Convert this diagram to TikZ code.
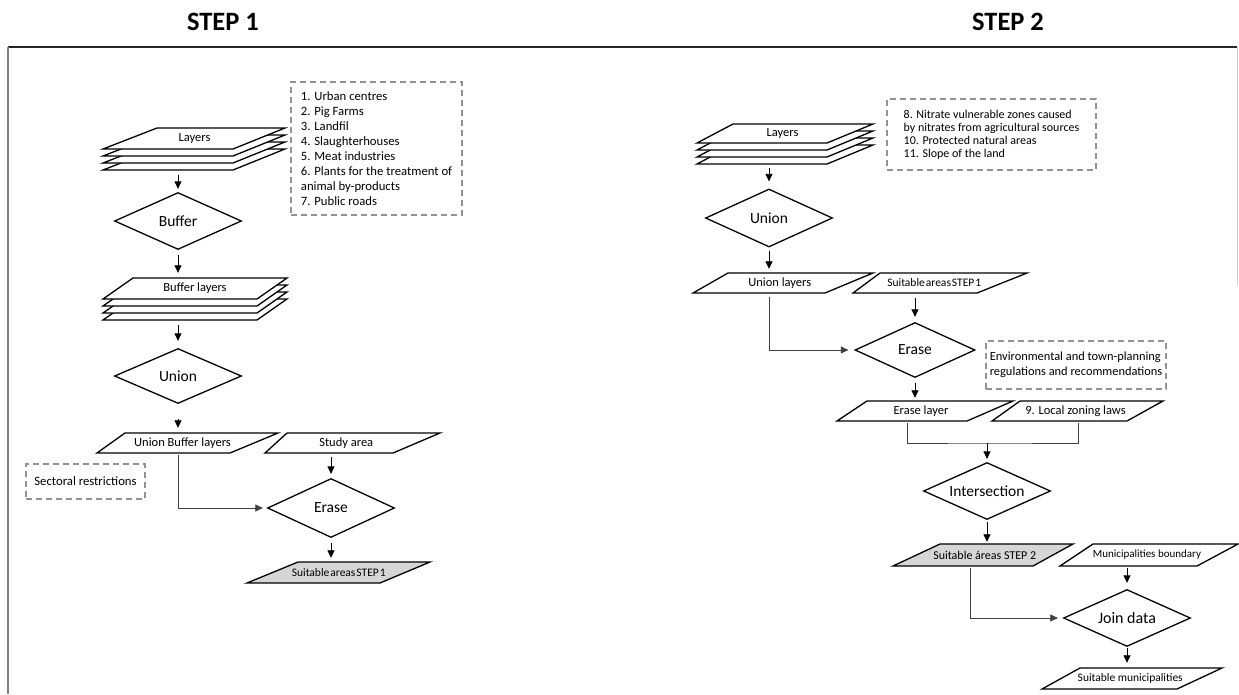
\documentclass[tikz,border=0pt]{standalone}
\usepackage{fontspec}
\setmainfont{Carlito}
\usetikzlibrary{shapes.geometric,arrows.meta,calc}

\tikzset{
  pshape/.style={draw=black, line width=1.3pt, fill=white, line join=miter},
  plabel/.style={inner sep=0pt, font=\fontsize{12.5}{14}\selectfont},
  dia/.style={diamond, draw=black, line width=1.3pt, fill=white, aspect=2.2, inner sep=0pt,
              minimum width=127pt, minimum height=57pt, font=\fontsize{15.5}{18}\selectfont},
  dbox/.style={draw=gray!85, dash pattern=on 6pt off 4pt, line width=1.1pt, inner sep=0pt,
               align=left, font=\fontsize{12.7}{15}\selectfont},
  arr/.style={draw=black, line width=0.8pt, -{Triangle[length=7.5pt,width=7pt]}},
  elbow/.style={draw=black!75, line width=0.7pt, -{Triangle[length=7.5pt,width=7pt]}},
  junc/.style={draw=black!75, line width=0.7pt},
  title/.style={font=\fontsize{26.5}{30}\selectfont\bfseries},
  gfill/.style={fill=black!16}
}

\newcommand\para[9]{%
  \draw[pshape,#9] (#2,#6) -- (#3,#6) -- (#5,#7) -- (#4,#7) -- cycle;
  \node[plabel, minimum height={#7-#6}, minimum width={(#3-#2+#5-#4)/2}] (#1)
     at ({(#2+#3+#4+#5)/4},{(#6+#7)/2}) {#8};
}
\newcommand\stackpara[9]{%
  \foreach \d in {21,14,7}{\draw[pshape] (#2,{#6+\d}) -- (#3,{#6+\d}) -- (#5,{#7+\d}) -- (#4,{#7+\d}) -- cycle;}
  \para{#1}{#2}{#3}{#4}{#5}{#6}{#7}{#8}{#9}%
}
\newcommand\tight[1]{{\spaceskip=1pt\relax #1}}

\begin{document}
\begin{tikzpicture}[x=1pt,y=-1pt]
\useasboundingbox (0,0) rectangle (1239,694);

% frame
\draw[black!85, line width=1.4pt] (8,47) -- (1237,47);
\draw[black!50, line width=1.6pt] (8,47) -- (8,694);
\draw[black!20, line width=1pt] (1237,47) -- (1237,285);

% titles
\node[title] (t1) at (223,22) {STEP 1};
\node[title] (t2) at (1008,22) {STEP 2};

% ---------------- STEP 1 ----------------
\node[dbox, minimum width=171pt, minimum height=133pt] (list1) at (376.5,148.5)
  {1. Urban centres\\2. Pig Farms\\3. Landfil\\4. Slaughterhouses\\5. Meat industries\\6. Plants for the treatment of\\animal by-products\\7. Public roads};

\stackpara{lay1}{157}{285}{103}{233}{128}{149}{Layers}{}
\node[dia] (buf) at (178,221) {Buffer};
\stackpara{bl}{133}{287}{103}{257}{278}{299}{Buffer layers}{}
\node[dia, minimum height=55pt] (un1) at (178,376) {Union};
\para{ubl}{125}{278}{97}{230}{433}{453}{Union Buffer layers}{}
\para{sa}{287}{440}{265}{393}{433}{453}{Study area}{}
\node[dbox, minimum width=119pt, minimum height=35pt] (sect) at (85.5,481.5) {Sectoral restrictions};
\node[dia, minimum height=59pt] (er1) at (331,508) {Erase};
\para{s1}{298}{430}{247}{380}{562}{583}{\fontsize{11.5}{13}\selectfont\tight{Suitable areas STEP 1}}{gfill}

\draw[arr] ($(lay1.south -| buf.north)+(0,26)$) -- ($(buf.north)+(0,-3)$);
\draw[arr] ($(buf.south)+(0,5)$) -- ($(bl.north -| buf.south)+(0,-5)$);
\draw[arr] ($(bl.south -| un1.north)+(0,26)$) -- ($(un1.north)+(0,-7)$);
\draw[arr] ($(un1.south)+(0,15)$) -- ($(ubl.north -| un1.south)+(0,-5)$);
\draw[arr] ($(sa.south -| er1.north)+(0,4)$) -- ($(er1.north)+(0,-4)$);
\draw[elbow] ($(ubl.south -| un1.south)+(0,2)$) |- ($(er1.west)+(-4,0)$);
\draw[arr] ($(er1.south)+(0,5)$) -- ($(s1.north -| er1.south)+(0,-4)$);

% ---------------- STEP 2 ----------------
\node[dbox, minimum width=209pt, minimum height=71pt, font=\fontsize{12}{13}\selectfont] (list2) at (991.5,134.5)
  {8. Nitrate vulnerable zones caused\\by nitrates from agricultural sources\\10. Protected natural areas\\11. Slope of the land};

\stackpara{lay2}{733}{873}{697}{827}{124}{143}{Layers}{}
\node[dia, minimum height=58pt] (un2) at (769,218) {Union};
\para{ul}{728}{873}{693}{825}{273}{293}{Union layers}{}
\para{s1b}{880}{1027}{853}{977}{273}{293}{\fontsize{11.5}{13}\selectfont\tight{Suitable areas STEP 1}}{}
\node[dia, minimum width=120pt, minimum height=55pt] (er2) at (915,350) {Erase};
\node[dbox, minimum width=180pt, minimum height=48pt, font=\fontsize{12.4}{15}\selectfont] (env) at (1076,365)
  {Environmental and town-planning\\regulations and recommendations};
\para{el}{867}{1013}{837}{967}{401}{421}{Erase layer}{}
\para{lz}{1020}{1163}{992}{1127}{401}{421}{9. Local zoning laws}{}
\node[dia] (inter) at (987,491) {Intersection};
\para{s2}{940}{1073}{893}{1033}{544}{566}{\fontsize{12}{14}\selectfont Suitable áreas STEP 2}{gfill}
\para{mb}{1093}{1238}{1060}{1197}{544}{566}{\fontsize{11}{13}\selectfont Municipalities boundary}{}
\node[dia, font=\fontsize{16}{19}\selectfont] (join) at (1127,618) {Join data};
\para{sm}{1080}{1222}{1042}{1177}{668}{689}{\fontsize{11.5}{13}\selectfont Suitable municipalities}{}

\coordinate (jn) at (987,443);
\draw[arr] ($(lay2.south -| un2.north)+(0,25)$) -- ($(un2.north)+(0,-7)$);
\draw[arr] ($(un2.south)+(0,3)$) -- ($(ul.north -| un2.south)+(0,-4)$);
\draw[elbow] ($(ul.south -| un2.south)+(0,4)$) |- ($(er2.west)+(-6,0)$);
\draw[arr] ($(s1b.south -| er2.north)+(0,5)$) -- ($(er2.north)+(0,-5)$);
\draw[arr] ($(er2.south)+(0,5)$) -- ($(el.north -| er2.south)+(0,-3)$);
\draw[junc] ($(el.south)+(-14,2)$) |- (jn) -| ($(lz.south)+(3,2)$);
\draw[arr] (jn) -- ($(inter.north)+(0,-3)$);
\draw[arr] ($(inter.south)+(0,2)$) -- ($(s2.north -| inter.south)+(0,-2)$);
\draw[arr] ($(mb.south -| join.north)+(0,2)$) -- ($(join.north)+(0,-6)$);
\draw[elbow] ($(s2.south)+(-14,2)$) |- ($(join.west)+(-5,0)$);
\draw[arr] ($(join.south)+(0,1)$) -- ($(sm.north -| join.south)+(0,-5)$);
\end{tikzpicture}
\end{document}
